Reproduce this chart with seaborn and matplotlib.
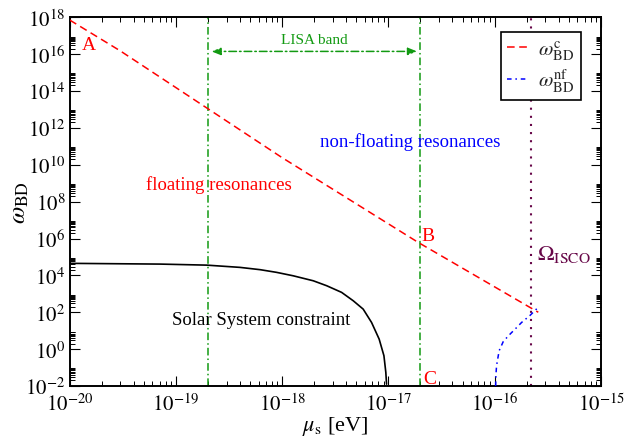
import numpy as np
import pandas as pd
import matplotlib
matplotlib.use("Agg")
import matplotlib.pyplot as plt
import seaborn as sns

# ---------------- data ----------------
# critical omega_BD (floating resonances boundary), red dashed
red_mu = [1.0e-20, 2.97e-20, 9.8e-19, 1.9e-17, 2.57e-16]
red_omega = [7.1e17, 1.55e16, 2.6e10, 6.2e5, 1.0e2]

# non-floating omega_BD, blue dash-dot
blue_mu = [1.02e-16, 1.025e-16, 1.04e-16, 1.10e-16, 1.20e-16, 1.34e-16,
           1.55e-16, 1.79e-16, 2.14e-16, 2.6e-16]
blue_omega = [1.0e-2, 3.5e-2, 0.126, 0.82, 2.5, 5.2, 12.0, 28.0, 66.0, 200.0]

# Solar System constraint, black solid
ss_mu = [1.0e-20, 7.1e-20, 1.95e-19, 4.0e-19, 6.2e-19, 8.85e-19, 1.27e-18,
         1.96e-18, 2.62e-18, 3.62e-18, 4.66e-18, 5.78e-18, 6.93e-18,
         8.17e-18, 9.06e-18, 9.44e-18, 9.59e-18]
ss_omega = [4.5e4, 4.1e4, 3.6e4, 2.72e4, 2.04e4, 1.46e4, 9.5e3, 5.1e3,
            2.75e3, 1.2e3, 4.2e2, 1.48e2, 28.0, 3.5, 0.44, 0.055, 0.0126]

lisa_band = [2.0e-19, 2.0e-17]
isco_mu = 2.2e-16

x_ticks = [1e-20, 1e-19, 1e-18, 1e-17, 1e-16, 1e-15]
x_ticklabels = [r"$10^{-20}$", r"$10^{-19}$", r"$10^{-18}$",
                r"$10^{-17}$", r"$10^{-16}$", r"$10^{-15}$"]
y_exponents = [-2, 0, 2, 4, 6, 8, 10, 12, 14, 16, 18]
y_ticks = [10.0 ** e for e in y_exponents]
y_ticklabels = [r"$10^{%d}$" % e for e in y_exponents]

# ---------------- style ----------------
sns.set_theme(style="ticks")
plt.rcParams["font.family"] = ["Liberation Serif", "DejaVu Serif"]
plt.rcParams["mathtext.fontset"] = "stix"

GREEN = "#129a12"
RED = "#ff0000"
BLUE = "#0000ff"
PURPLE = "#670748"

fig = plt.figure(figsize=(6.25, 4.39), dpi=100)
ax = fig.add_axes([69.7 / 625, 1 - 387 / 439, 531.3 / 625, 368.7 / 439])
ax.set_xscale("log")
ax.set_yscale("log")
ax.set_xlim(1e-20, 1e-15)
ax.set_ylim(1e-2, 1e18)

df_red = pd.DataFrame({"mu": red_mu, "omega": red_omega})
df_blue = pd.DataFrame({"mu": blue_mu, "omega": blue_omega})
df_ss = pd.DataFrame({"mu": ss_mu, "omega": ss_omega})

# vertical lines
for xv in lisa_band:
    ax.axvline(xv, color=GREEN, lw=1.1, ls=(0, (5, 2, 1, 2)), zorder=2)
ax.axvline(isco_mu, color=PURPLE, lw=1.5, ls=(0, (1, 2.9)), zorder=2)

sns.lineplot(data=df_ss, x="mu", y="omega", ax=ax, color="black", lw=1.2,
             estimator=None, sort=False, legend=False, zorder=3)
sns.lineplot(data=df_red, x="mu", y="omega", ax=ax, color=RED, lw=1.1,
             ls=(0, (5, 3)), estimator=None, sort=False,
             label=r"$\omega_{\rm BD}^{\rm c}$", zorder=3)
sns.lineplot(data=df_blue, x="mu", y="omega", ax=ax, color=BLUE, lw=1.1,
             ls=(0, (3, 2.5, 1, 2.5)), estimator=None, sort=False,
             label=r"$\omega_{\rm BD}^{\rm nf}$", zorder=3)

# LISA band arrow
arrow_y = 10 ** 16.15
ax.annotate("", xy=(lisa_band[1] * 0.93, arrow_y),
            xytext=(lisa_band[0] * 1.08, arrow_y),
            arrowprops=dict(arrowstyle="<|-|>,head_length=0.45,head_width=0.18",
                            color=GREEN, lw=1.1, ls=(0, (5, 2, 1, 2)),
                            shrinkA=0, shrinkB=0))
ax.text(10 ** -17.70, 10 ** 16.82, "LISA band", color=GREEN, fontsize=11,
        ha="center", va="center")

# annotations
ax.text(10 ** -19.89, 10 ** 16.55, "A", color=RED, fontsize=14,
        ha="left", va="center")
ax.text(10 ** -16.69, 10 ** 6.14, "B", color=RED, fontsize=14,
        ha="left", va="center")
ax.text(10 ** -16.67, 10 ** -1.62, "C", color=RED, fontsize=14,
        ha="left", va="center")
ax.text(10 ** -15.60, 10 ** 5.2, r"$\Omega_{\rm ISCO}$", color=PURPLE,
        fontsize=16, ha="left", va="center")
ax.text(10 ** -19.28, 10 ** 8.95, "floating resonances", color=RED,
        fontsize=13.5, ha="left", va="center")
ax.text(10 ** -17.64, 10 ** 11.29, "non-floating resonances", color=BLUE,
        fontsize=13.5, ha="left", va="center")
ax.text(10 ** -19.04, 10 ** 1.62, "Solar System constraint", color="black",
        fontsize=13.5, ha="left", va="center")

# ticks
ax.set_xticks(x_ticks, labels=x_ticklabels)
ax.set_yticks(y_ticks, labels=y_ticklabels)
ax.xaxis.set_minor_locator(matplotlib.ticker.LogLocator(base=10, subs=np.arange(2, 10)))
y_minor = [k * 10.0 ** e for e in y_exponents[:-1] for k in range(2, 10)]
ax.yaxis.set_minor_locator(matplotlib.ticker.FixedLocator(y_minor))
ax.xaxis.set_minor_formatter(matplotlib.ticker.NullFormatter())
ax.yaxis.set_minor_formatter(matplotlib.ticker.NullFormatter())
ax.tick_params(which="both", direction="in", top=True, right=True,
               color="black", labelsize=15, labelcolor="black")
ax.tick_params(which="major", length=7.5, width=0.8)
ax.tick_params(which="minor", length=3.8, width=0.7)
ax.tick_params(axis="x", which="major", pad=5)
ax.tick_params(axis="y", which="major", pad=3)

for sp in ax.spines.values():
    sp.set_linewidth(1.4)
    sp.set_color("black")

ax.set_xlabel(r"$\mu_{\rm s}$ [eV]", fontsize=16, color="black", labelpad=-1)
ax.set_ylabel(r"$\omega_{\rm BD}$", fontsize=18, color="black", labelpad=-4)

leg = ax.legend(loc="upper right", bbox_to_anchor=(0.962, 0.961),
                borderaxespad=0, fontsize=15, frameon=True, fancybox=False,
                handlelength=1.0, handletextpad=0.5, borderpad=0.3,
                labelspacing=0.25)
leg.get_frame().set_edgecolor("black")
leg.get_frame().set_linewidth(1.2)
leg.get_frame().set_alpha(1)
leg.set_zorder(5)

fig.savefig("out.png", dpi=100)
